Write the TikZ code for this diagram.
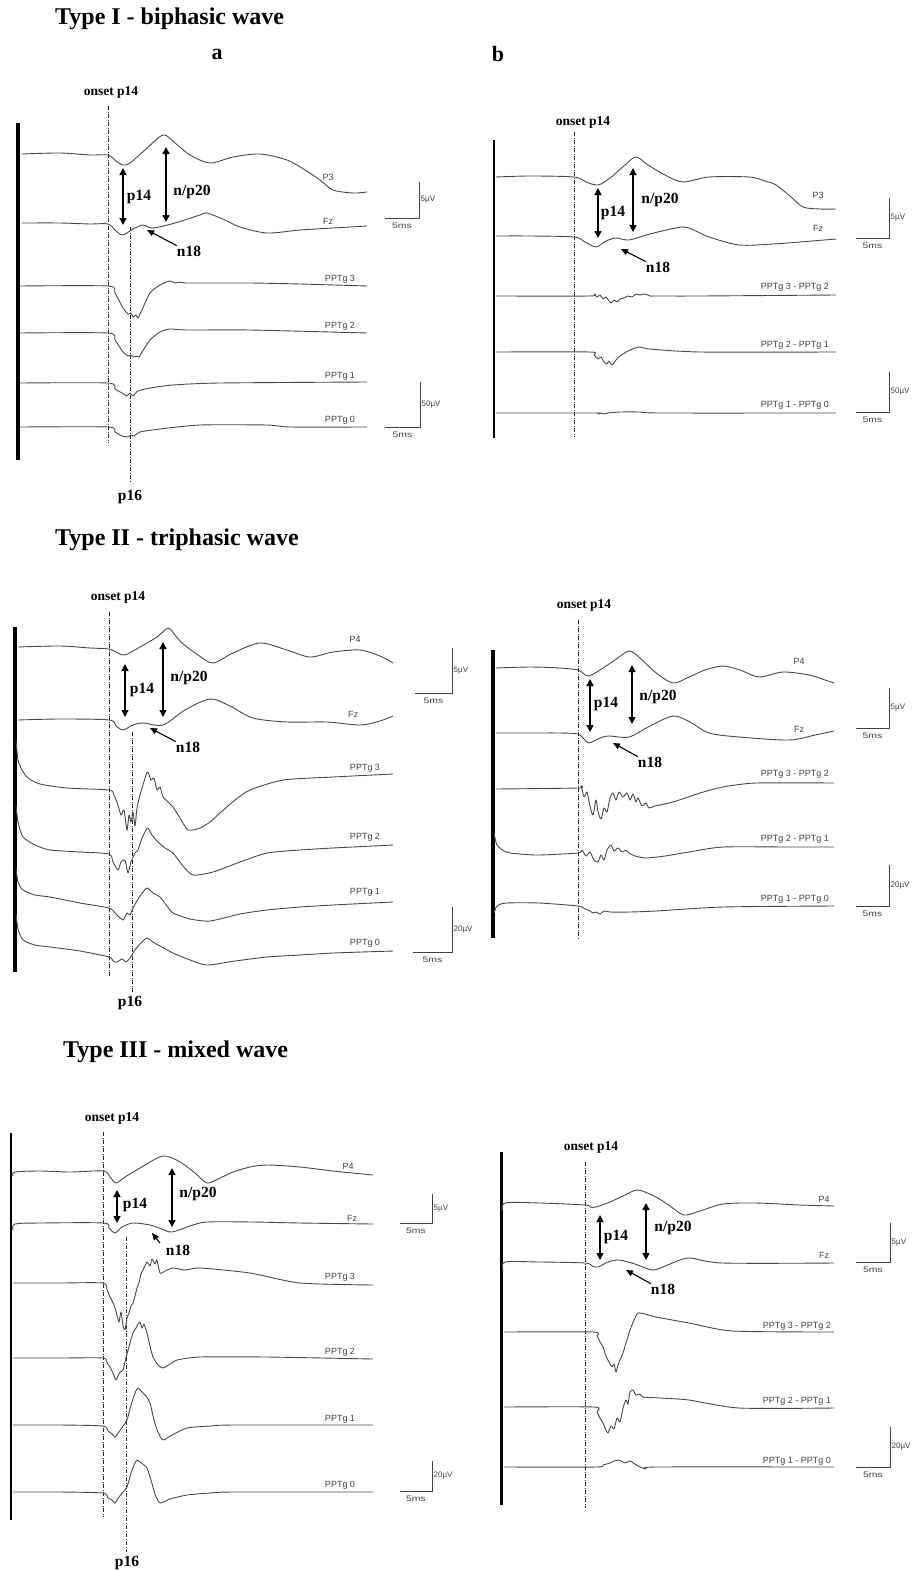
\documentclass[tikz,border=0pt]{standalone}
\usepackage{fontspec}
\setmainfont{Liberation Serif}
\setsansfont{Liberation Sans}
\usetikzlibrary{arrows.meta}

\begin{document}
\begin{tikzpicture}[x=1pt, y=-1pt,
	trace/.style={black!72, line width=0.9pt, line join=round},
	onsetline/.style={black!85, line width=0.7pt, dash pattern=on 4pt off 1.5pt on 1pt off 1.5pt},
	bar/.style={black, line width=#1},
	amp/.style={{Triangle[length=7pt,width=7pt]}-{Triangle[length=7pt,width=7pt]}, line width=1.4pt},
	ptr/.style={-{Triangle[length=7pt,width=6pt]}, line width=1.1pt},
	title/.style={font=\bfseries\fontsize{24}{24}\selectfont, anchor=west, inner sep=0pt},
	col/.style={font=\bfseries\fontsize{22}{22}\selectfont, inner sep=0pt},
	onsetlab/.style={font=\bfseries\fontsize{13.5}{13.5}\selectfont, inner sep=0pt},
	peak/.style={font=\bfseries\fontsize{15.5}{15.5}\selectfont, inner sep=0pt},
	chan/.style={font=\sffamily\fontsize{9}{9}\selectfont, text=black!75, inner sep=0pt},
	cal/.style={font=\sffamily\fontsize{8}{8}\selectfont, text=black!75, inner sep=0pt},
	calline/.style={black!75, line width=0.7pt}]
	\useasboundingbox (0,0) rectangle (912,1571);

	% titles
	\node[title] (ttlI) at (55,19) {Type I - biphasic wave};
	\node[title] (ttlII) at (55,540) {Type II - triphasic wave};
	\node[title] (ttlIII) at (63,1052) {Type III - mixed wave};
	\node[col] (cola) at (217,54) {a};
	\node[col] (colb) at (498,54) {b};

	% scale bars: x / top / bottom / left / amplitude
	\foreach \x/\yt/\yb/\xl/\amp [count=\i] in {419/182/218/385/5, 420/382/427/385/50,
	    889/198/238/856/5, 889/372/412/856/50,
	    452/648/693/415/5, 452/907/952/413/20,
	    889/688/728/856/5, 889/865/906/856/20,
	    432/1194/1223/400/5, 432/1461/1491/400/20,
	    890/1223/1262/856/5, 890/1427/1467/856/20}{
		\draw[calline] (\xl,\yb) -- (\x,\yb) -- (\x,\yt);
		\node[cal, anchor=west] (amp\i) at ({\x+1.5},{(\yt+\yb)/2}) {\amp µV};
		\node[cal] (ms\i) at ({(\x+\xl)/2},{\yb+8}) {\scalebox{1.3}[1]{5ms}};
	}

	%%% Type I, a
	\draw[bar=3.5pt] (18,123) -- (18,460);
	\draw[onsetline] (108,106) -- (108,443);
	\draw[onsetline] (130,227) -- (130,483);
	\node[onsetlab] (onIa) at (111,92) {onset p14};
	\node[peak] (p16Ia) at (130,497) {p16};
	\draw[trace] plot[smooth, tension=0.5] coordinates {(22,154) (60,153) (90,155) (108,155) (116,161) (123,165) (130,163) (145,150) (163,135) (175,143) (190,155) (210,163) (233,157) (260,154) (287,160) (305,170) (320,180) (333,190) (353,193) (367,192)};
	\draw[trace] plot[smooth, tension=0.5] coordinates {(22,223) (60,223) (90,224) (108,224) (116,231) (123,235) (133,229) (143,225) (153,228) (175,223) (200,215) (207,213) (225,220) (240,227) (267,233) (300,230) (333,228) (367,226)};
	\draw[trace] plot[smooth, tension=0.4] coordinates {(20,286) (108,286) (115,293) (123,308) (128,314) (131,313) (133,317) (136,315) (138,318) (141,312) (150,293) (160,285) (170,281) (175,283) (180,282) (187,283) (250,283) (300,284) (367,286)};
	\draw[trace] plot[smooth, tension=0.4] coordinates {(20,333) (108,333) (115,340) (123,352) (128,356) (131,355) (134,357) (137,356) (139,357) (142,352) (150,340) (160,332) (170,329) (187,330) (250,330) (367,333)};
	\draw[trace] plot[smooth, tension=0.4] coordinates {(20,383) (108,383) (115,389) (122,393) (127,396) (130,393) (133,396) (138,391) (150,388) (173,385) (220,383) (367,382)};
	\draw[trace] plot[smooth, tension=0.4] coordinates {(20,427) (108,427) (115,432) (122,436) (128,437) (131,435) (134,436) (140,432) (160,429) (200,425) (267,425) (290,427) (367,427)};
	\node[chan] (P3a) at (328,177) {P3};
	\node[chan] (Fza) at (328,221) {Fz};
	\node[chan] (Ia3) at (340,279) {PPTg 3};
	\node[chan] (Ia2) at (340,326) {PPTg 2};
	\node[chan] (Ia1) at (340,376) {PPTg 1};
	\node[chan] (Ia0) at (340,420) {PPTg 0};
	\draw[amp] (123,168) -- (123,225);
	\draw[amp] (166,147) -- (166,222);
	\node[peak] (p14Ia) at (139,197) {p14};
	\node[peak] (np20Ia) at (192,192) {n/p20};
	\node[peak] (n18Ia) at (189,251) {n18};
	\draw[ptr] (n18Ia.north west) -- (147,230);

	%%% Type I, b
	\draw[bar=2.5pt] (494,140) -- (494,438);
	\draw[onsetline] (574,132) -- (574,437);
	\node[onsetlab] (onIb) at (583,122) {onset p14};
	\draw[trace] plot[smooth, tension=0.5] coordinates {(496,177) (530,176) (574,177) (586,182) (598,185) (610,178) (625,165) (636,157) (648,165) (665,175) (683,182) (709,177) (749,177) (765,181) (776,185) (790,196) (803,207) (820,209) (836,209)};
	\draw[trace] plot[smooth, tension=0.5] coordinates {(496,236) (530,236) (574,237) (585,242) (596,247) (606,241) (616,238) (629,240) (650,234) (683,227) (700,233) (709,237) (739,245) (773,244) (800,242) (836,239)};
	\draw[trace] plot[smooth, tension=0.4] coordinates {(496,296) (590,296) (594,294) (597,297) (600,295) (603,299) (606,297) (609,301) (611,303) (614,300) (617,302) (620,299) (624,298) (628,296) (632,297) (636,294) (640,295) (645,294) (650,296) (656,296) (700,296) (836,295)};
	\draw[trace] plot[smooth, tension=0.4] coordinates {(496,352) (590,352) (594,355) (598,359) (601,357) (604,362) (607,364) (609,361) (612,365) (616,360) (620,356) (628,351) (635,348) (640,347) (650,349) (700,352) (836,352)};
	\draw[trace] plot[smooth, tension=0.4] coordinates {(496,413) (595,413) (598,414) (601,413) (604,414) (608,413) (620,412) (640,412) (660,413) (836,413)};
	\node[chan] (P3b) at (818,195) {P3};
	\node[chan] (Fzb) at (818,228) {Fz};
	\node[chan, anchor=east] (Ib3) at (829,287) {PPTg 3 - PPTg 2};
	\node[chan, anchor=east] (Ib2) at (829,345) {PPTg 2 - PPTg 1};
	\node[chan, anchor=east] (Ib1) at (829,405) {PPTg 1 - PPTg 0};
	\draw[amp] (598,188) -- (598,238);
	\draw[amp] (633,168) -- (633,232);
	\node[peak] (p14Ib) at (613,213) {p14};
	\node[peak] (np20Ib) at (660,200) {n/p20};
	\node[peak] (n18Ib) at (658,267) {n18};
	\draw[ptr] (n18Ib.north west) -- (621,249);

	%%% Type II, a
	\draw[bar=4pt] (15,627) -- (15,972);
	\draw[onsetline] (109,612) -- (109,977);
	\draw[onsetline] (132,732) -- (132,993);
	\node[onsetlab] (onIIa) at (118,597) {onset p14};
	\node[peak] (p16IIa) at (130,1003) {p16};
	\draw[trace] plot[smooth, tension=0.5] coordinates {(18,647) (60,646) (90,648) (109,649) (118,653) (125,655) (140,647) (157,637) (168,628) (175,635) (182,643) (198,655) (213,663) (233,653) (260,643) (287,650) (310,657) (333,652) (360,650) (380,656) (393,663)};
	\draw[trace] plot[smooth, tension=0.5] coordinates {(18,720) (60,719) (109,720) (116,726) (123,730) (133,725) (143,723) (163,725) (185,710) (210,699) (230,706) (253,718) (287,722) (327,722) (360,725) (380,721) (393,716)};
	\draw[trace] plot[smooth, tension=0.4] coordinates {(16,740) (18,760) (22,770) (28,778) (40,784) (67,788) (109,790) (114,795) (118,805) (121,815) (124,810) (127,830) (129,815) (131,822) (133,812) (135,826) (137,808) (140,795) (143,785) (146,775) (148,772) (151,780) (154,778) (157,790) (160,787) (163,797) (166,800) (170,804) (173,807) (180,818) (188,830) (200,828) (210,822) (220,813) (235,800) (250,790) (283,780) (333,777) (393,774)};
	\draw[trace] plot[smooth, tension=0.4] coordinates {(16,805) (18,822) (23,837) (35,845) (50,850) (80,852) (109,854) (113,862) (118,870) (121,862) (125,860) (128,873) (131,862) (135,853) (138,850) (142,838) (146,830) (148,828) (152,835) (158,842) (165,848) (173,853) (183,866) (193,875) (213,872) (240,862) (267,853) (300,850) (333,848) (393,845)};
	\draw[trace] plot[smooth, tension=0.4] coordinates {(16,868) (18,882) (23,890) (35,895) (50,897) (80,903) (109,908) (116,914) (123,920) (127,913) (130,915) (133,908) (140,896) (147,888) (153,893) (160,897) (167,906) (173,913) (190,919) (210,921) (240,914) (267,910) (300,907) (333,905) (393,902)};
	\draw[trace] plot[smooth, tension=0.4] coordinates {(16,914) (18,929) (23,940) (35,945) (50,947) (80,951) (109,957) (113,961) (117,962) (122,959) (126,962) (130,958) (135,950) (141,943) (147,938) (153,942) (160,946) (173,953) (190,960) (207,965) (235,961) (267,957) (300,955) (333,953) (393,951)};
	\node[chan] (P4IIa) at (355,639) {P4};
	\node[chan] (FzIIa) at (353,714) {Fz};
	\node[chan] (IIa3) at (365,768) {PPTg 3};
	\node[chan] (IIa2) at (365,837) {PPTg 2};
	\node[chan] (IIa1) at (365,892) {PPTg 1};
	\node[chan] (IIa0) at (365,943) {PPTg 0};
	\draw[amp] (125,664) -- (125,717);
	\draw[amp] (163,642) -- (163,717);
	\node[peak] (p14IIa) at (142,690) {p14};
	\node[peak] (np20IIa) at (189,678) {n/p20};
	\node[peak] (n18IIa) at (188,747) {n18};
	\draw[ptr] (n18IIa.north west) -- (150,728);

	%%% Type II, b
	\draw[bar=3.5pt] (493,650) -- (493,938);
	\draw[onsetline] (578,620) -- (578,940);
	\node[onsetlab] (onIIb) at (584,605) {onset p14};
	\draw[trace] plot[smooth, tension=0.5] coordinates {(496,668) (530,667) (560,668) (578,670) (584,674) (589,676) (600,670) (615,660) (629,651) (640,658) (655,672) (673,683) (689,677) (705,670) (723,666) (740,670) (759,677) (783,672) (809,675) (825,680) (834,683)};
	\draw[trace] plot[smooth, tension=0.5] coordinates {(496,733) (530,733) (560,733) (578,734) (584,739) (589,743) (600,738) (609,736) (629,737) (650,726) (673,716) (690,722) (709,733) (739,737) (789,740) (815,735) (834,731)};
	\draw[trace] plot[smooth, tension=0.4] coordinates {(496,789) (578,788) (581,786) (584,797) (587,792) (590,806) (593,815) (596,800) (598,812) (601,819) (604,808) (607,812) (610,798) (613,793) (616,800) (619,792) (623,797) (627,793) (630,800) (633,794) (636,802) (638,798) (642,806) (646,803) (649,808) (655,806) (673,802) (700,793) (723,787) (756,783) (834,783)};
	\draw[trace] plot[smooth, tension=0.4] coordinates {(494,833) (497,845) (506,852) (520,854) (539,855) (578,853) (582,850) (586,856) (590,852) (594,860) (598,862) (601,855) (604,860) (607,850) (611,845) (614,851) (618,848) (622,852) (626,850) (629,853) (635,856) (646,858) (665,856) (689,852) (723,847) (789,847) (834,847)};
	\draw[trace] plot[smooth, tension=0.4] coordinates {(494,913) (497,906) (506,903) (539,903) (578,906) (585,909) (590,911) (593,913) (596,912) (600,914) (604,911) (610,912) (630,912) (656,911) (723,907) (834,906)};
	\node[chan] (P4IIb) at (799,661) {P4};
	\node[chan] (FzIIb) at (799,729) {Fz};
	\node[chan, anchor=east] (IIb3) at (829,774) {PPTg 3 - PPTg 2};
	\node[chan, anchor=east] (IIb2) at (829,839) {PPTg 2 - PPTg 1};
	\node[chan, anchor=east] (IIb1) at (829,899) {PPTg 1 - PPTg 0};
	\draw[amp] (590,679) -- (590,732);
	\draw[amp] (632,665) -- (632,724);
	\node[peak] (p14IIb) at (606,704) {p14};
	\node[peak] (np20IIb) at (658,697) {n/p20};
	\node[peak] (n18IIb) at (650,762) {n18};
	\draw[ptr] (n18IIb.north west) -- (613,743);

	%%% Type III, a
	\draw[bar=1.5pt] (11,1133) -- (11,1520);
	\draw[onsetline] (103,1132) -- (103,1517);
	\draw[onsetline] (126,1237) -- (126,1552);
	\node[onsetlab] (onIIIa) at (112,1118) {onset p14};
	\node[peak] (p16IIIa) at (127,1563) {p16};
	\draw[trace] plot[smooth, tension=0.5] coordinates {(13,1176) (15,1172) (40,1171) (70,1172) (103,1171) (110,1177) (116,1183) (125,1177) (140,1168) (163,1156) (180,1162) (195,1173) (207,1183) (220,1178) (233,1172) (250,1167) (267,1165) (300,1167) (333,1171) (373,1175)};
	\draw[trace] plot[smooth, tension=0.5] coordinates {(13,1230) (15,1224) (40,1223) (103,1223) (109,1228) (115,1233) (122,1227) (133,1223) (150,1225) (162,1229) (172,1232) (190,1226) (207,1222) (253,1222) (300,1223) (373,1224)};
	\draw[trace] plot[smooth, tension=0.4] coordinates {(13,1283) (60,1283) (103,1283) (107,1290) (110,1297) (114,1305) (117,1315) (119,1322) (121,1312) (123,1326) (125,1330) (127,1318) (129,1313) (131,1306) (133,1303) (135,1296) (137,1288) (139,1283) (141,1274) (144,1268) (147,1262) (150,1266) (152,1259) (155,1264) (157,1260) (160,1273) (165,1271) (173,1268) (185,1270) (200,1268) (250,1273) (300,1283) (373,1285)};
	\draw[trace] plot[smooth, tension=0.4] coordinates {(13,1358) (60,1358) (103,1358) (107,1363) (110,1367) (113,1373) (116,1380) (118,1376) (120,1372) (123,1370) (126,1358) (130,1343) (133,1333) (136,1328) (138,1324) (140,1322) (142,1328) (144,1324) (147,1333) (150,1346) (153,1357) (158,1365) (163,1368) (170,1364) (177,1360) (200,1357) (267,1357) (373,1359)};
	\draw[trace] plot[smooth, tension=0.4] coordinates {(13,1425) (60,1425) (103,1426) (108,1431) (112,1434) (115,1437) (119,1432) (123,1426) (127,1420) (131,1405) (135,1393) (138,1388) (142,1392) (146,1396) (150,1403) (154,1420) (158,1432) (163,1440) (172,1435) (187,1428) (210,1426) (233,1425) (373,1425)};
	\draw[trace] plot[smooth, tension=0.4] coordinates {(13,1492) (60,1492) (103,1493) (108,1498) (112,1500) (115,1503) (119,1497) (123,1492) (127,1487) (131,1473) (134,1465) (137,1460) (140,1462) (144,1465) (147,1468) (151,1480) (155,1494) (160,1503) (170,1499) (187,1495) (210,1493) (233,1492) (373,1492)};
	\node[chan] (P4IIIa) at (348,1166) {P4};
	\node[chan] (FzIIIa) at (352,1218) {Fz};
	\node[chan] (IIIa3) at (340,1277) {PPTg 3};
	\node[chan] (IIIa2) at (340,1352) {PPTg 2};
	\node[chan] (IIIa1) at (340,1419) {PPTg 1};
	\node[chan] (IIIa0) at (340,1485) {PPTg 0};
	\draw[amp] (117,1190) -- (117,1223);
	\draw[amp] (172,1168) -- (172,1227);
	\node[peak] (p14IIIa) at (135,1205) {p14};
	\node[peak] (np20IIIa) at (198,1194) {n/p20};
	\node[peak] (n18IIIa) at (178,1250) {n18};
	\draw[ptr] (160,1243) -- (152,1233);

	%%% Type III, b
	\draw[bar=3pt] (501,1152) -- (501,1505);
	\draw[onsetline] (585,1162) -- (585,1508);
	\node[onsetlab] (onIIIb) at (591,1147) {onset p14};
	\draw[trace] plot[smooth, tension=0.5] coordinates {(503,1212) (505,1203) (540,1203) (585,1205) (590,1207) (596,1207) (610,1202) (625,1195) (638,1190) (656,1197) (670,1206) (684,1215) (700,1211) (723,1204) (756,1203) (800,1205) (834,1206)};
	\draw[trace] plot[smooth, tension=0.5] coordinates {(503,1270) (505,1262) (540,1262) (585,1263) (592,1266) (598,1267) (608,1262) (619,1260) (635,1264) (653,1270) (670,1264) (689,1258) (723,1263) (834,1263)};
	\draw[trace] plot[smooth, tension=0.4] coordinates {(504,1332) (593,1332) (597,1336) (600,1342) (603,1347) (606,1356) (609,1362) (612,1367) (614,1364) (616,1372) (618,1365) (620,1360) (623,1353) (626,1343) (629,1333) (632,1325) (635,1318) (638,1313) (645,1314) (656,1317) (689,1323) (733,1331) (834,1332)};
	\draw[trace] plot[smooth, tension=0.4] coordinates {(504,1407) (594,1407) (597,1412) (600,1418) (603,1423) (606,1430) (608,1433) (611,1426) (614,1429) (617,1418) (620,1422) (623,1408) (626,1400) (628,1404) (630,1392) (633,1390) (636,1395) (640,1394) (643,1397) (660,1398) (689,1400) (739,1408) (834,1408)};
	\draw[trace] plot[smooth, tension=0.4] coordinates {(504,1467) (596,1467) (603,1465) (610,1463) (614,1461) (619,1460) (625,1463) (630,1461) (638,1466) (646,1469) (656,1467) (834,1467)};
	\node[chan] (P4IIIb) at (824,1199) {P4};
	\node[chan] (FzIIIb) at (824,1255) {Fz};
	\node[chan, anchor=east] (IIIb3) at (831,1326) {PPTg 3 - PPTg 2};
	\node[chan, anchor=east] (IIIb2) at (831,1401) {PPTg 2 - PPTg 1};
	\node[chan, anchor=east] (IIIb1) at (831,1461) {PPTg 1 - PPTg 0};
	\draw[amp] (600,1215) -- (600,1260);
	\draw[amp] (646,1203) -- (646,1260);
	\node[peak] (p14IIIb) at (616,1237) {p14};
	\node[peak] (np20IIIb) at (673,1228) {n/p20};
	\node[peak] (n18IIIb) at (663,1289) {n18};
	\draw[ptr] (n18IIIb.north west) -- (626,1270);
\end{tikzpicture}
\end{document}
